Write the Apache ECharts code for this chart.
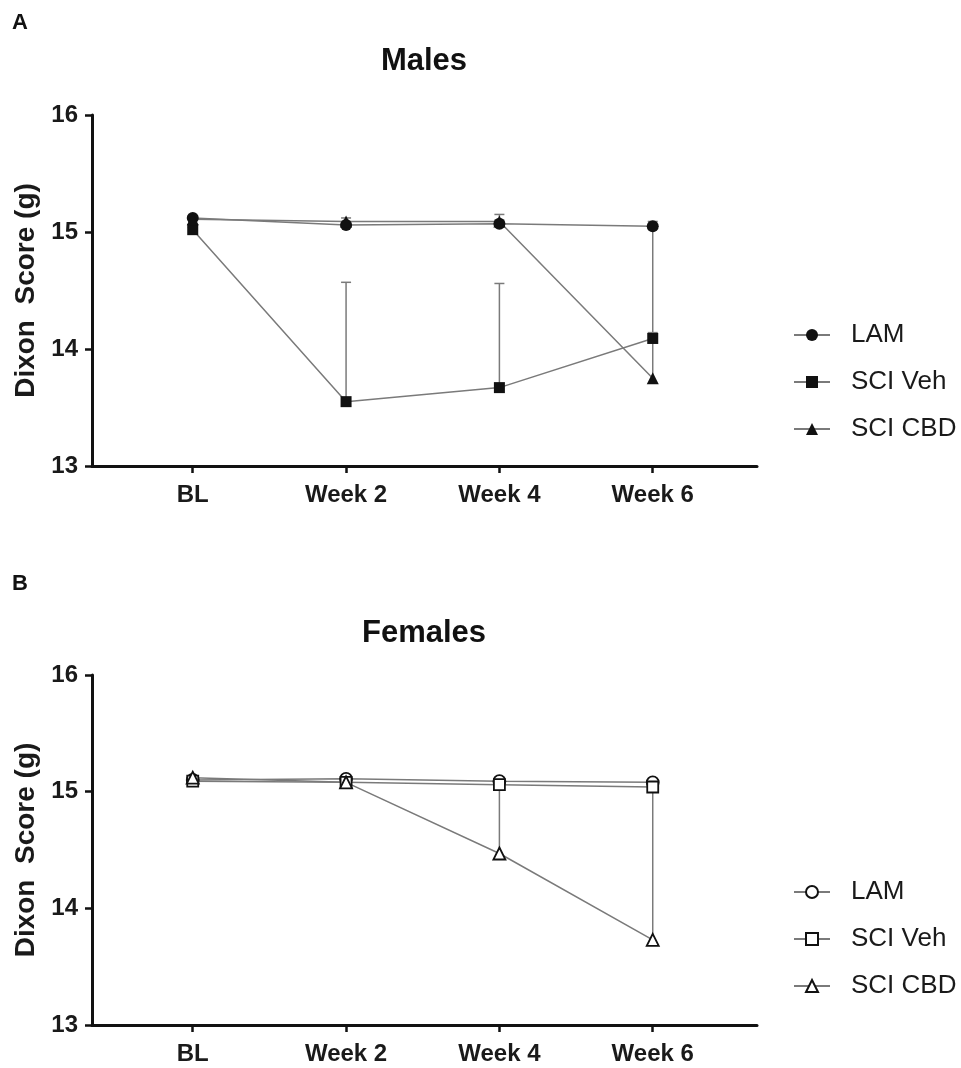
<!DOCTYPE html>
<html>
<head>
<meta charset="utf-8">
<script src="https://cdn.jsdelivr.net/npm/echarts@6/dist/echarts.min.js"></script>
<style>
html,body{margin:0;padding:0;background:#fff;}
#c{width:961px;height:1068px;}
</style>
</head>
<body>
<div id="c"></div>
<script>
// ---- data ----
const categories = ['BL', 'Week 2', 'Week 4', 'Week 6'];
const groupNames = ['LAM', 'SCI Veh', 'SCI CBD'];
const yTicks = [13, 14, 15, 16];

// Males (panel A): means and upward error (SEM)
const maleLAM = [15.12, 15.06, 15.07, 15.05];
const maleLAMErr = [0.02, 0.02, 0.03, 0.04];
const maleVeh = [15.02, 13.55, 13.67, 14.09];
const maleVehErr = [0.02, 1.02, 0.89, 0.05];
const maleCBD = [15.11, 15.09, 15.09, 13.75];
const maleCBDErr = [0.02, 0.03, 0.06, 1.29];

// Females (panel B)
const femLAM = [15.10, 15.11, 15.09, 15.08];
const femLAMErr = [0.01, 0.01, 0.01, 0.01];
const femVeh = [15.09, 15.08, 15.06, 15.04];
const femVehErr = [0.01, 0.01, 0.01, 0.01];
const femCBD = [15.12, 15.08, 14.47, 13.73];
const femCBDErr = [0.01, 0.01, 0.58, 1.31];

// ---- chart ----
const FONT = 'Liberation Sans, Arial, Helvetica, sans-serif';
const AX = '#111';
const LINE = '#7a7a7a';
const chart = echarts.init(document.getElementById('c'));

const toPts = arr => arr.map((v, i) => [i, v]);
const toErr = (m, e) => m.map((v, i) => [i, v, v + e[i]]);

function xAxis(gi) {
  return {
    type: 'value', gridIndex: gi, min: -0.657, max: 3.68,
    splitLine: {show: false},
    axisLine: {show: true, onZero: false, lineStyle: {color: AX, width: 3}},
    axisTick: {show: true, customValues: [0, 1, 2, 3], length: 7, lineStyle: {color: AX, width: 2.5}},
    axisLabel: {
      customValues: [0, 1, 2, 3], margin: 17,
      formatter: v => categories[Math.round(v)] || '',
      color: '#1a1a1a', fontFamily: FONT, fontWeight: 'bold', fontSize: 24
    }
  };
}
function yAxis(gi) {
  return {
    type: 'value', gridIndex: gi, min: yTicks[0], max: yTicks[yTicks.length - 1], interval: 1,
    splitLine: {show: false},
    axisLine: {show: true, onZero: false, lineStyle: {color: AX, width: 3}},
    axisTick: {show: true, length: 7, lineStyle: {color: AX, width: 2.5}},
    axisLabel: {margin: 14, color: '#1a1a1a', fontFamily: FONT, fontWeight: 'bold', fontSize: 24},
    name: 'Dixon  Score (g)', nameLocation: 'middle', nameGap: 45,
    nameTextStyle: {color: '#1a1a1a', fontFamily: FONT, fontWeight: 'bold', fontSize: 28}
  };
}

function errSeries(gi, data) {
  return {
    type: 'custom', xAxisIndex: gi, yAxisIndex: gi, z: 1, silent: true,
    encode: {x: 0, y: [1, 2]},
    data: data,
    renderItem: function (params, api) {
      const p0 = api.coord([api.value(0), api.value(1)]);
      const p1 = api.coord([api.value(0), api.value(2)]);
      return {
        type: 'group',
        children: [
          {type: 'line', shape: {x1: p0[0], y1: p0[1], x2: p1[0], y2: p1[1]}, style: {stroke: LINE, lineWidth: 1.5}},
          {type: 'line', shape: {x1: p1[0] - 5, y1: p1[1], x2: p1[0] + 5, y2: p1[1]}, style: {stroke: LINE, lineWidth: 1.5}}
        ]
      };
    }
  };
}

const symbols = ['circle', 'rect', 'triangle'];
const sizes = [12, 11, 12];
function lineSeries(gi, prefix, idx, data, hollow) {
  return {
    type: 'line', name: prefix + groupNames[idx], xAxisIndex: gi, yAxisIndex: gi, z: 3,
    data: toPts(data), symbol: symbols[idx], symbolSize: sizes[idx],
    showAllSymbol: true,
    lineStyle: {color: LINE, width: 1.5},
    itemStyle: hollow ? {color: '#fff', borderColor: '#111', borderWidth: 1.8} : {color: '#111', borderColor: '#111', borderWidth: 0},
    emphasis: {disabled: true},
    animation: false
  };
}

function legend(top, prefix) {
  return {
    orient: 'vertical', left: 788, top: top, itemGap: 21, itemWidth: 36, itemHeight: 15,
    data: groupNames.map(n => prefix + n),
    formatter: n => n.slice(2),
    textStyle: {fontFamily: FONT, fontSize: 26, color: '#1a1a1a', padding: [0, 0, 0, 16]},
    selectedMode: false
  };
}

const option = {
  animation: false,
  backgroundColor: '#fff',
  grid: [
    {left: 92, top: 115, width: 665, height: 351},
    {left: 92, top: 675, width: 665, height: 350}
  ],
  xAxis: [xAxis(0), xAxis(1)],
  yAxis: [yAxis(0), yAxis(1)],
  legend: [legend(317, 'M:'), legend(874, 'F:')],
  graphic: [
    {type: 'text', left: 12, top: 12, style: {text: 'A', font: 'bold 22px ' + FONT, fill: '#111'}},
    {type: 'text', x: 424, y: 61, style: {text: 'Males', font: 'bold 31px ' + FONT, fill: '#111', textAlign: 'center', textVerticalAlign: 'middle'}},
    {type: 'text', left: 12, top: 573, style: {text: 'B', font: 'bold 22px ' + FONT, fill: '#111'}},
    {type: 'text', x: 424, y: 633, style: {text: 'Females', font: 'bold 31px ' + FONT, fill: '#111', textAlign: 'center', textVerticalAlign: 'middle'}}
  ],
  series: [
    errSeries(0, toErr(maleLAM, maleLAMErr)),
    errSeries(0, toErr(maleVeh, maleVehErr)),
    errSeries(0, toErr(maleCBD, maleCBDErr)),
    lineSeries(0, 'M:', 0, maleLAM, false),
    lineSeries(0, 'M:', 1, maleVeh, false),
    lineSeries(0, 'M:', 2, maleCBD, false),
    errSeries(1, toErr(femLAM, femLAMErr)),
    errSeries(1, toErr(femVeh, femVehErr)),
    errSeries(1, toErr(femCBD, femCBDErr)),
    lineSeries(1, 'F:', 0, femLAM, true),
    lineSeries(1, 'F:', 1, femVeh, true),
    lineSeries(1, 'F:', 2, femCBD, true)
  ]
};
chart.setOption(option);
</script>
</body>
</html>
